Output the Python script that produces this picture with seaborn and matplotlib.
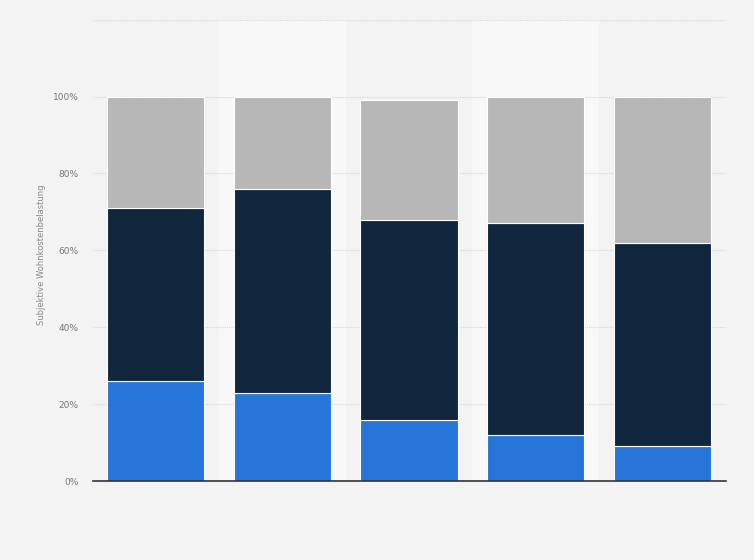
import numpy as np
import pandas as pd
import seaborn as sns
import matplotlib.pyplot as plt

# data (percent)
categories = ["1", "2", "3", "4", "5"]
blue = [26, 23, 16, 12, 9]
navy = [45, 53, 52, 55, 53]
grey = [29, 24, 31, 33, 38]

df = pd.DataFrame({"cat": categories, "blue": blue, "navy": navy, "grey": grey})

sns.set_style("white")
plt.rcParams['font.family'] = ['DejaVu Sans']

fig = plt.figure(figsize=(7.54, 5.6), dpi=100)
fig.patch.set_facecolor("#f3f3f3")
ax = fig.add_axes([92.5 / 754, 0.141, 633 / 754, 0.824])
ax.set_facecolor("#f3f3f3")

# alternating column shading
for i in range(len(categories)):
    if i % 2 == 1:
        ax.axvspan(i - 0.5, i + 0.5, color="#f8f8f8", zorder=0, lw=0)

ax.set_ylim(0, 120)
ax.set_yticks(np.arange(0, 121, 20))
ax.yaxis.grid(True, color="#d6d6d6", linestyle=(0, (1, 1)), lw=0.8, zorder=0.5)
ax.set_axisbelow(True)

bottom_navy = np.array(blue)
bottom_grey = bottom_navy + np.array(navy)

bw = 0.767
sns.barplot(data=df, x="cat", y="blue", color="#2675d8", width=bw,
            edgecolor="white", linewidth=0.8, saturation=1, ax=ax, zorder=2)
sns.barplot(data=df, x="cat", y="navy", color="#0f263d", width=bw,
            bottom=bottom_navy, edgecolor="white", linewidth=0.8,
            saturation=1, ax=ax, zorder=2)
sns.barplot(data=df, x="cat", y="grey", color="#b7b7b7", width=bw,
            bottom=bottom_grey, edgecolor="white", linewidth=0.8,
            saturation=1, ax=ax, zorder=2)

ax.set_xlim(-0.5, len(categories) - 0.5)
ax.set_xticks([])
ax.set_xlabel("")
ax.set_yticklabels([f"{v}%" if v <= 100 else "" for v in range(0, 121, 20)])
ax.tick_params(axis="y", length=0, labelsize=6.5, labelcolor="#777777", pad=10)
ax.set_ylabel("Subjektive Wohnkostenbelastung", fontsize=6, color="#888888")
ax.yaxis.set_label_coords(-0.0735, 0.49)

for s in ["top", "right", "left"]:
    ax.spines[s].set_visible(False)
ax.spines["bottom"].set_color("#333333")
ax.spines["bottom"].set_linewidth(1.2)

fig.savefig("out.png", dpi=100, facecolor=fig.get_facecolor())
